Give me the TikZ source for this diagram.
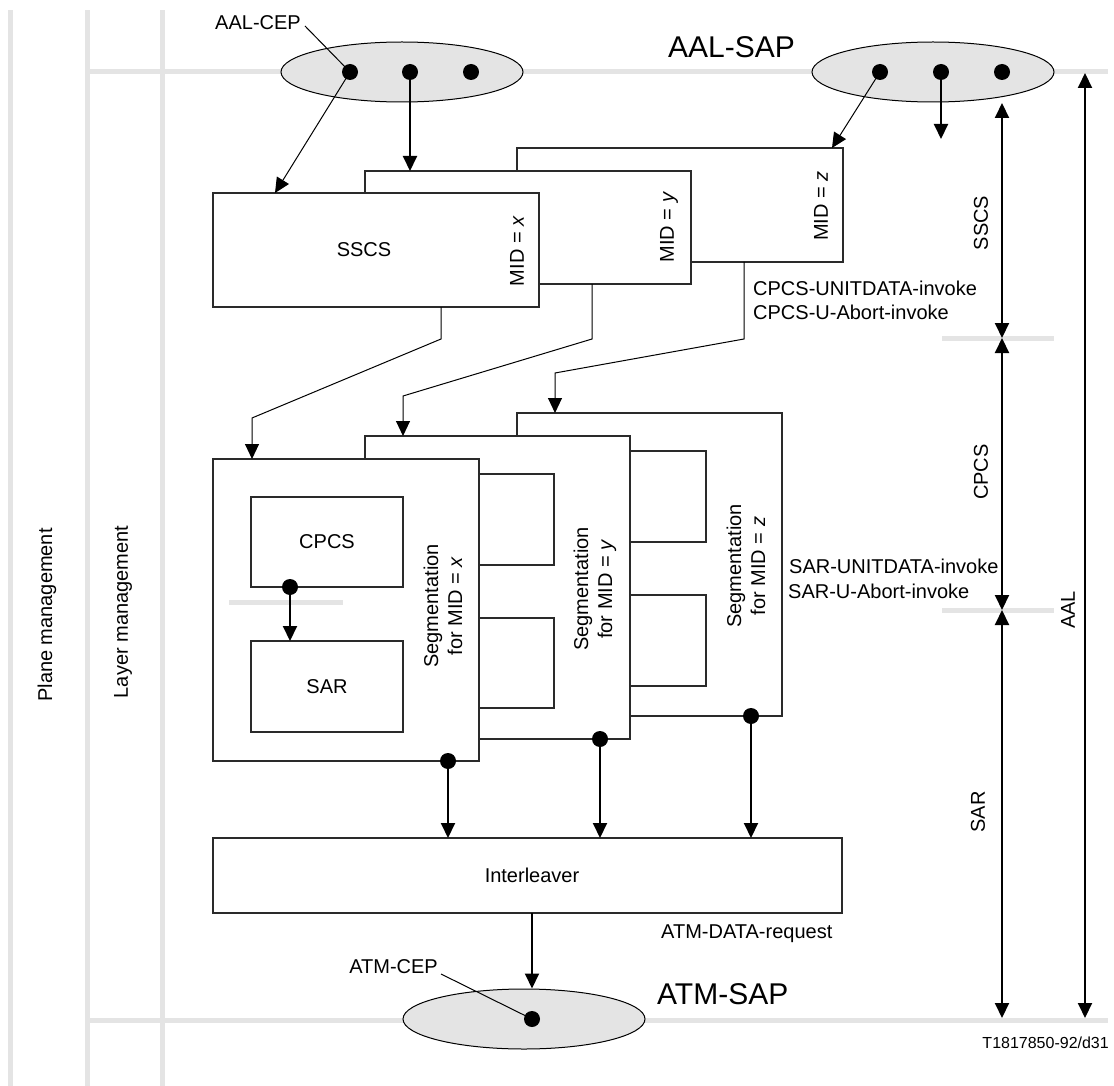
\documentclass[tikz,border=0pt]{standalone}
\usepackage{fontspec}
\setmainfont{Liberation Sans}
\usetikzlibrary{arrows.meta,shapes.geometric,calc}
\definecolor{lg}{HTML}{E4E4E4}
\definecolor{ink}{HTML}{2A2A2A}
\begin{document}
\begin{tikzpicture}[x=1pt,y=-1pt,
  every node/.style={font=\fontsize{20}{24}\selectfont},
  grayln/.style={draw=lg,line width=5pt},
  box/.style={rectangle,draw=ink,line width=1.1pt,fill=white,inner sep=0pt,outer sep=0pt},
  dot/.style={circle,fill=black,inner sep=0pt,minimum size=16pt},
  tip/.style={-{Triangle[length=15pt,width=14pt]}},
  both/.style={{Triangle[length=15pt,width=14pt]}-{Triangle[length=15pt,width=14pt]}},
  thk/.style={line width=2pt},
  thn/.style={line width=1pt},
  cep/.style={ellipse,draw=black,line width=1pt,fill=lg,minimum width=242pt,minimum height=60pt,inner sep=0pt},
  lbl/.style={inner sep=0pt},
  big/.style={font=\fontsize{30}{36}\selectfont},
  small/.style={font=\fontsize{16}{19}\selectfont},
]
\useasboundingbox (0,0) rectangle (1114,1086);

% ---- management planes (gray rules)
\draw[grayln] (10,10) -- (10,1086);
\draw[grayln] (87,10) -- (87,1086);
\draw[grayln] (162,10) -- (162,1086);
\draw[grayln] (87,72) -- (1108,72);
\draw[grayln] (87,1020) -- (1108,1020);
\draw[grayln] (942,338) -- (1054,338);
\draw[grayln] (942,610) -- (1054,610);

\node[lbl,rotate=90] (plane) at (47,615) {Plane management};
\node[lbl,rotate=90] (layer) at (123,612) {Layer management};

% ---- service access points
\node[cep] (e1) at (402,72) {};
\node[cep] (e2) at (933,72) {};
\node[cep] (e3) at (524,1019) {};
\node[dot] (d11) at (350,72) {};
\node[dot] (d12) at (410,72) {};
\node[dot] (d13) at (471,72) {};
\node[dot] (d21) at (880,72) {};
\node[dot] (d22) at (941,72) {};
\node[dot] (d23) at (1002,72) {};
\node[dot] (d31) at (532,1019) {};

\node[lbl,big,anchor=west] (aalsap) at (668,47) {AAL-SAP};
\node[lbl,big,anchor=west] (atmsap) at (657,994) {ATM-SAP};
\node[lbl,anchor=west] (aalcep) at (215,23) {AAL-CEP};
\node[lbl,anchor=east] (atmcep) at (438,967) {ATM-CEP};
\draw[thn] ($(aalcep.east)+(4,3)$) -- (d11.center);
\draw[thn] ($(atmcep.east)+(3,7)$) -- (d31.center);

% ---- SSCS boxes
\node[box,minimum width=326pt,minimum height=114pt] (b3) at (680,205) {};
\node[box,minimum width=326pt,minimum height=113pt] (b2) at (528,227.5) {};
\node[box,minimum width=326pt,minimum height=114pt] (b1) at (376,250) {};
\node[lbl] (sscs) at (364,250) {SSCS};
\node[lbl,rotate=90] (midx) at (517,251) {MID = \textit{x}};
\node[lbl,rotate=90] (midy) at (669,227) {MID = \textit{y}};
\node[lbl,rotate=90] (midz) at (821,206) {MID = \textit{z}};

% ---- arrows from AAL-SAP
\coordinate (t1) at (275,0);
\coordinate (t2) at (832,0);
\coordinate (free) at (941,139);
\draw[thn,tip] (d11.center) -- (t1 |- b1.north);
\draw[thk,tip] (d12.center) -- (d12 |- b2.north);
\draw[thn,tip] (d21.center) -- (t2 |- b3.north);
\draw[thk,tip] (d22.center) -- (free);

% ---- segmentation boxes
\node[box,minimum width=265pt,minimum height=303pt] (sz) at (649.5,564.5) {};
\node[box,minimum width=76pt,minimum height=91pt] (yz1) at (668,496.5) {};
\node[box,minimum width=76pt,minimum height=91pt] (yz2) at (668,640.5) {};
\node[lbl,rotate=90,align=center] (tsz) at (746,566) {Segmentation\\for MID = \textit{z}};
\node[box,minimum width=265pt,minimum height=303pt] (sy) at (497.5,587.5) {};
\node[box,minimum width=75pt,minimum height=91pt] (xy1) at (516.5,519.5) {};
\node[box,minimum width=75pt,minimum height=90pt] (xy2) at (516.5,663) {};
\node[lbl,rotate=90,align=center] (tsy) at (595,589) {Segmentation\\for MID = \textit{y}};
\node[box,minimum width=266pt,minimum height=302pt] (sx) at (346,610) {};
\node[lbl,rotate=90,align=center] (tsx) at (443,606) {Segmentation\\for MID = \textit{x}};
\node[box,minimum width=152pt,minimum height=90pt] (cpcs) at (327,542) {CPCS};
\node[box,minimum width=152pt,minimum height=91pt] (sar) at (327,686.5) {SAR};
\draw[grayln] (229,602) -- (343,602);
\node[dot] (dc) at (290,587) {};
\draw[thk,tip] (dc.center) -- (dc |- sar.north);

% ---- connectors SSCS -> segmentation
\coordinate (k1) at (441,339);
\coordinate (k2) at (252,418);
\coordinate (k3) at (592,339);
\coordinate (k4) at (403,396);
\coordinate (k5) at (744,339);
\coordinate (k6) at (555,373);
\draw[thn,tip] (k1 |- b1.south) -- (k1) -- (k2) -- (k2 |- sx.north);
\draw[thn,tip] (k3 |- b2.south) -- (k3) -- (k4) -- (k4 |- sy.north);
\draw[thn,tip] (k5 |- b3.south) -- (k5) -- (k6) -- (k6 |- sz.north);

% ---- interleaver
\node[box,minimum width=629pt,minimum height=75pt] (il) at (527.5,875.5) {};
\node[lbl] (iltext) at (532,875) {Interleaver};
\node[dot] (dx) at (448,761) {};
\node[dot] (dy) at (600,739) {};
\node[dot] (dz) at (751,716) {};
\draw[thk,tip] (dx.center) -- (dx |- il.north);
\draw[thk,tip] (dy.center) -- (dy |- il.north);
\draw[thk,tip] (dz.center) -- (dz |- il.north);
\draw[thk,tip] (il.south -| d31) -- (d31 |- e3.north);

% ---- primitive labels
\node[lbl,anchor=west,align=left] (cpcsprim) at (753,300.5) {CPCS-UNITDATA-invoke\\CPCS-U-Abort-invoke};
\node[lbl,anchor=west] (atmdata) at (661,934) {ATM-DATA-request};

% ---- layer extents
\coordinate (m0) at (1002,103);
\coordinate (m1) at (1002,338);
\coordinate (m2) at (1002,610);
\coordinate (m3) at (1002,1018);
\coordinate (a0) at (1085,73);
\coordinate (a1) at (1085,1018);
\draw[thk,both] (m0) -- (m1);
\draw[thk,both] (m1) -- (m2);
\draw[thk,both] (m2) -- (m3);
\draw[thk,both] (a0) -- (a1);
\node[lbl,fill=white,inner sep=1pt,anchor=west] (sarprim1) at (788,566) {SAR-UNITDATA-invoke};
\node[lbl,anchor=west] (sarprim2) at (788,591) {SAR-U-Abort-invoke};
\node[lbl,rotate=90] (lsscs) at (981,223) {SSCS};
\node[lbl,rotate=90] (lcpcs) at (981,472) {CPCS};
\node[lbl,rotate=90] (lsar) at (978,812) {SAR};
\node[lbl,rotate=90] (laal) at (1068,610) {AAL};

\node[lbl,small,anchor=east] (ref) at (1109,1043) {T1817850-92/d31};
\end{tikzpicture}
\end{document}
